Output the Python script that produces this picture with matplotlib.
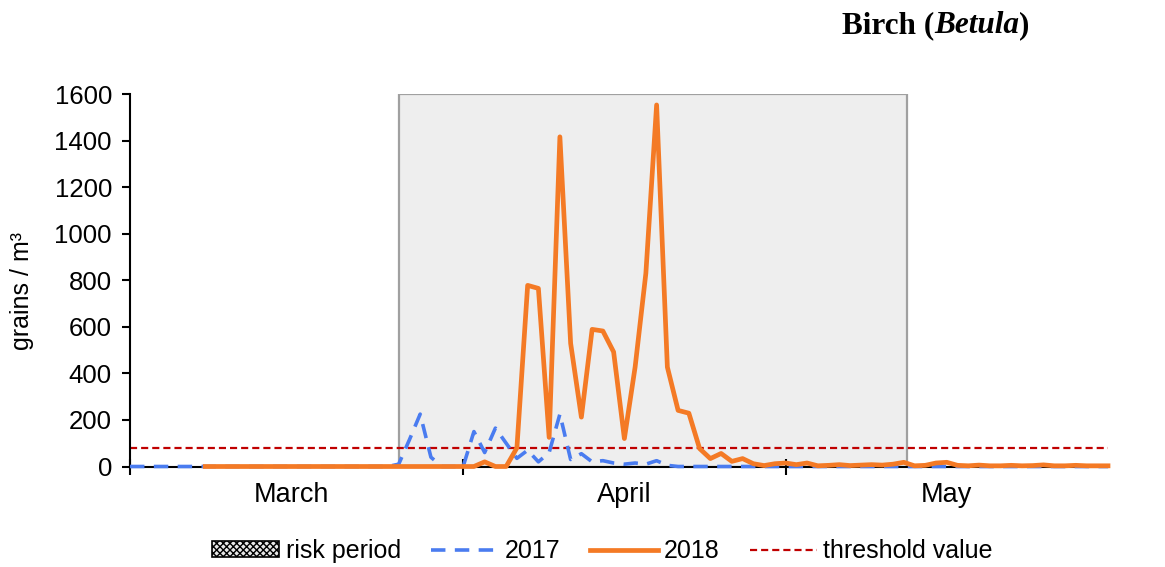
import numpy as np
import matplotlib
matplotlib.use("Agg")
import matplotlib.pyplot as plt
from matplotlib.patches import Patch
from matplotlib.lines import Line2D

# ---------------- data ----------------
days = np.arange(92)  # 1 March .. 31 May
month_labels = ["March", "April", "May"]
month_bounds = [0, 31, 61]
month_centers = [15, 46, 76]

pollen_2017 = [0]*25 + [10, 115, 225, 40, 0, 0, 0, 150, 60, 165, 100, 35, 70, 20, 60,
                        225, 30, 55, 20, 25, 15, 10, 15, 10, 25, 5] + [0]*41

pollen_2018 = [np.nan]*7 + [0]*26 + [20, 0, 0, 80, 778, 765, 125, 1416, 529, 212, 589,
                                      582, 492, 120, 427, 830, 1553, 427, 241, 229, 77, 34,
                                      56, 22, 34, 12, 4, 12, 15, 8, 15, 3, 5, 8, 4, 6, 8, 6,
                                      10, 18, 3, 5, 15, 18, 5, 3, 6, 3, 3, 5, 3, 4, 7, 3, 3,
                                      5, 3, 3, 3]

risk_start, risk_end = 25, 72.3
risk_height = 1600
threshold = 80

y_ticks = [0, 200, 400, 600, 800, 1000, 1200, 1400, 1600]

# ---------------- figure ----------------
plt.rcParams['font.family'] = ['Liberation Sans', 'DejaVu Sans']
fig = plt.figure(figsize=(11.65, 5.67), dpi=100)
ax = fig.add_axes([130/1165, 1-466.5/567, 978/1165, 372.5/567])

ax.bar(risk_start, risk_height, width=risk_end-risk_start, align='edge',
       color='#eeeeee', edgecolor='#a0a0a0', linewidth=1.6, zorder=1)
ax.axhline(threshold, color='#c00000', lw=1.6, dashes=(3.2, 1.8), zorder=2)
ax.plot(days, pollen_2017, color='#4a7cf0', lw=2.6, dashes=(4.0, 2.6),
        zorder=3, clip_on=False, solid_capstyle='butt')
ax.plot(days, pollen_2018, color='#f47a25', lw=3.4, zorder=4, clip_on=False,
        solid_joinstyle='round')

ax.set_xlim(0, 91)
ax.set_ylim(0, 1600)
ax.set_yticks(y_ticks)
ax.tick_params(axis='y', labelsize=18.5, length=6, width=1.5, direction='out', pad=7)
ax.set_xticks(month_bounds)
ax.set_xticklabels([])
ax.tick_params(axis='x', which='major', length=11, width=1.5, direction='inout')
ax.set_xticks(month_centers, minor=True)
ax.set_xticklabels(month_labels, minor=True)
ax.tick_params(axis='x', which='minor', length=0, labelsize=19.5, pad=11)

for s in ['top', 'right']:
    ax.spines[s].set_visible(False)
for s in ['left', 'bottom']:
    ax.spines[s].set_linewidth(1.5)
    ax.spines[s].set_color('black')
ax.spines['bottom'].set_zorder(2.5)

ax.set_ylabel('grains / m³', fontsize=18)
ax.yaxis.set_label_coords(-0.098, 0.47)

# title with mixed styles
t1 = fig.text(842/1165, 1-33/567, 'Birch (', family='Liberation Serif',
              fontweight='bold', fontsize=22.5, va='baseline', ha='left')
a1 = ax.annotate('Betula', xy=(1, 0), xycoords=t1, va='bottom', ha='left',
                 family='Liberation Serif', fontweight='bold', style='italic',
                 fontsize=22.5, annotation_clip=False)
ax.annotate(')', xy=(1, 0), xycoords=a1, va='bottom', ha='left',
            family='Liberation Serif', fontweight='bold', fontsize=22.5,
            annotation_clip=False)

handles = [
    Patch(facecolor='#e8e8e8', edgecolor='black', hatch='xxxxx', linewidth=1.2),
    Line2D([], [], color='#4a7cf0', lw=2.6, dashes=(4.0, 2.6)),
    Line2D([], [], color='#f47a25', lw=3.4),
    Line2D([], [], color='#c00000', lw=1.6, dashes=(3.2, 1.8)),
]
labels = ['risk period', '2017', '2018', 'threshold value']
fig.legend(handles, labels, loc='center', bbox_to_anchor=(0.517, 1-551/567),
           ncol=4, frameon=False, fontsize=18, handlelength=2.7,
           handletextpad=0.25, columnspacing=1.2, handleheight=0.6)

fig.savefig('out.png', dpi=100)
